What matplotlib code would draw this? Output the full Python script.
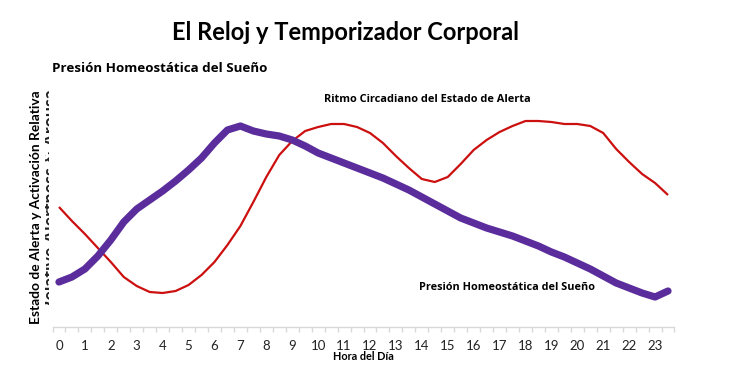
import numpy as np
import matplotlib
matplotlib.use("Agg")
import matplotlib.pyplot as plt
from matplotlib.patches import Rectangle

plt.rcParams['font.family'] = ['Lato', 'DejaVu Sans']

# Hours (half-hour steps)
hours = [i * 0.5 for i in range(48)]
hour_labels = [str(h) for h in range(24)]

# Relative level (arbitrary units, higher = more alert)
circadian_px = [207, 221, 234, 248, 262, 277, 286, 292, 293, 291,
                285, 275, 262, 245, 226, 202, 177, 155, 141, 131,
                127, 124, 124, 127, 133, 143, 156, 168, 179, 182,
                177, 164, 150, 140, 132, 126, 121, 121, 122, 124,
                124, 126, 133, 149, 162, 174, 183, 195]
homeostatic_px = [282, 277, 269, 256, 240, 222, 209, 200, 191, 181,
                  170, 158, 143, 130, 126, 131, 134, 136, 140, 146,
                  153, 158, 163, 168, 173, 178, 184, 190, 197, 204,
                  211, 218, 223, 228, 232, 236, 241, 246, 252, 257,
                  263, 269, 276, 283, 288, 293, 297, 291]
circadian = [327 - v for v in circadian_px]
homeostatic = [327 - v for v in homeostatic_px]

W, H = 733, 390
fig = plt.figure(figsize=(W / 100, H / 100), dpi=100)
left_px, right_px, top_px, bot_px = 52.5, 674.5, 100, 327
ax = fig.add_axes([left_px / W, 1 - bot_px / H, (right_px - left_px) / W, (bot_px - top_px) / H])

ax.plot(hours, circadian, color='#CC1010', lw=1.6, solid_capstyle='butt', zorder=2)
ax.plot(hours, homeostatic, color='#5B2D9C', lw=5.2, solid_capstyle='round', solid_joinstyle='round', zorder=3)

ax.set_xlim(-0.25, 23.75)
ax.set_ylim(0, 227)
for s in ['top', 'left', 'right']:
    ax.spines[s].set_visible(False)
ax.spines['bottom'].set_color('#D9D9D9')
ax.spines['bottom'].set_linewidth(1.0)
ax.set_yticks([])
ax.set_xticks(range(24))
ax.set_xticklabels(hour_labels, fontsize=9.5, color='#222222')
ax.tick_params(axis='x', which='major', length=0, pad=9)
ax.set_xticks(np.arange(-0.25, 23.76, 0.5), minor=True)
ax.tick_params(axis='x', which='minor', length=3.5, color='#D9D9D9', width=1.0)

ax.set_xlabel('Hora del Día', fontsize=7.8, fontweight='bold', labelpad=0)

small = ['Open Sans', 'DejaVu Sans']
fig.text(345 / W, 1 - 33 / H, 'El Reloj y Temporizador Corporal', fontsize=17,
         fontweight='bold', ha='center', va='center')
fig.text(52 / W, 1 - 68 / H, 'Presión Homeostática del Sueño', fontsize=9.6,
         fontweight='bold', ha='left', va='center', family=small)
fig.text(324 / W, 1 - 100 / H, 'Ritmo Circadiano del Estado de Alerta', fontsize=7.9,
         fontweight='bold', ha='left', va='center', family=small)
fig.text(419 / W, 1 - 288 / H, 'Presión Homeostática del Sueño', fontsize=7.8,
         fontweight='bold', ha='left', va='center', family=small)

# ghost (partly hidden) axis label behind the Spanish one
ghost = fig.text(52 / W, 1 - 198 / H, 'Relative Alertness & Arousal', fontsize=12.8,
                 fontweight='bold', ha='center', va='center', rotation=90, color='#222222')
clip = Rectangle((45 / W, 1 - 305 / H), 4 / W, 215 / H, transform=fig.transFigure)
ghost.set_clip_path(clip)

fig.text(36 / W, 1 - 207 / H, 'Estado de Alerta y Activación Relativa', fontsize=9.9,
         fontweight='bold', ha='center', va='center', rotation=90)

fig.savefig('out.png', dpi=100)
